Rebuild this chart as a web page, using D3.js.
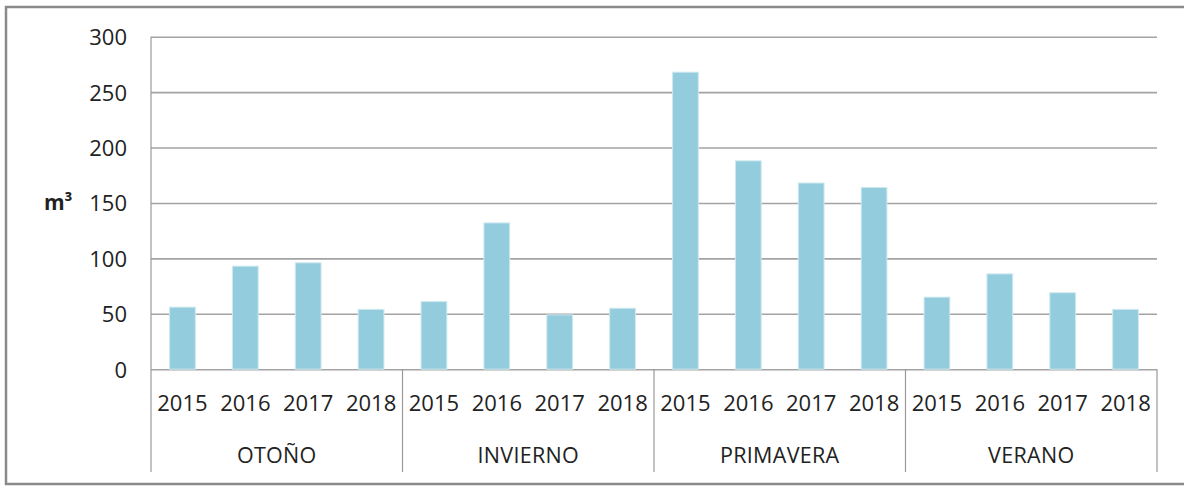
<!DOCTYPE html>
<html>
<head>
<meta charset="utf-8">
<script src="https://cdn.jsdelivr.net/npm/d3@7"></script>
<style>
	body { margin: 0; background: #fff; }
	text { font-family: 'Open Sans', sans-serif; fill: #222; }
</style>
</head>
<body>
<svg id="chart" width="1184" height="486"></svg>
<script>
const seasons = ['OTOÑO', 'INVIERNO', 'PRIMAVERA', 'VERANO'];
const years = ['2015', '2016', '2017', '2018'];

// m³ per season, one value per year
const otono = [56, 93, 96, 54];
const invierno = [61, 132, 49, 55];
const primavera = [268, 188, 168, 164];
const verano = [65, 86, 69, 54];

const yTicks = [0, 50, 100, 150, 200, 250, 300];
const unitLabel = 'm³';

const seriesBySeason = [otono, invierno, primavera, verano];

const data = [];
seasons.forEach((s, i) => {
	years.forEach((yr, j) => {
		data.push({ season: s, year: yr, value: seriesBySeason[i][j] });
	});
});

const plotLeft = 151;
const plotRight = 1157;
const plotTop = 36.7;
const plotBottom = 369.2;
const catBottom = 472;

const $svg = d3.select('#chart');

// outer frame
$svg.append('rect')
	.attr('x', 6)
	.attr('y', 7)
	.attr('width', 1200)
	.attr('height', 477)
	.attr('fill', 'none')
	.attr('stroke', '#8a8a8a')
	.attr('stroke-width', 2.5);

const x0 = d3.scaleBand()
	.domain(seasons)
	.range([plotLeft, plotRight]);

const x1 = d3.scaleBand()
	.domain(years)
	.range([0, x0.bandwidth()])
	.paddingInner(0.59)
	.paddingOuter(0.295);

const y = d3.scaleLinear()
	.domain([0, 300])
	.range([plotBottom, plotTop]);

// value axis + gridlines
const yAxis = d3.axisLeft(y)
	.tickValues(yTicks)
	.tickSize(-(plotRight - plotLeft))
	.tickPadding(24);

const $yAxis = $svg.append('g')
	.attr('transform', `translate(${plotLeft},0)`)
	.call(yAxis);

$yAxis.select('.domain').remove();
$yAxis.selectAll('.tick line')
	.attr('stroke', '#a3a3a3')
	.attr('stroke-width', 1.6);
$yAxis.selectAll('.tick text')
	.attr('font-size', 22)
	.attr('font-family', "'Open Sans', sans-serif")
	.attr('fill', '#222')
	.attr('dy', '0.36em');

// unit label
$svg.append('text')
	.attr('x', 44)
	.attr('y', 210)
	.attr('font-size', 21)
	.attr('font-weight', 'bold')
	.text(unitLabel);

// bars
$svg.append('g')
	.selectAll('rect')
	.data(data)
	.join('rect')
	.attr('x', d => x0(d.season) + x1(d.year))
	.attr('y', d => y(d.value))
	.attr('width', x1.bandwidth())
	.attr('height', d => y(0) - y(d.value))
	.attr('fill', '#93cddd')
	.attr('stroke', '#cfe9f0')
	.attr('stroke-width', 1);

// category axis lines
const $cat = $svg.append('g');

$cat.append('line')
	.attr('x1', plotLeft)
	.attr('x2', plotLeft)
	.attr('y1', plotTop)
	.attr('y2', catBottom)
	.attr('stroke', '#999')
	.attr('stroke-width', 1.2);

$cat.selectAll('line.sep')
	.data(seasons)
	.join('line')
	.attr('class', 'sep')
	.attr('x1', d => x0(d) + x0.bandwidth())
	.attr('x2', d => x0(d) + x0.bandwidth())
	.attr('y1', plotBottom)
	.attr('y2', catBottom)
	.attr('stroke', '#999')
	.attr('stroke-width', 1.2);

// year labels
$cat.selectAll('text.year')
	.data(data)
	.join('text')
	.attr('class', 'year')
	.attr('x', d => x0(d.season) + x1(d.year) + x1.bandwidth() / 2)
	.attr('y', 403.5)
	.attr('dy', '0.36em')
	.attr('text-anchor', 'middle')
	.attr('font-size', 22)
	.text(d => d.year);

// season labels
$cat.selectAll('text.season')
	.data(seasons)
	.join('text')
	.attr('class', 'season')
	.attr('x', d => x0(d) + x0.bandwidth() / 2)
	.attr('y', 455)
	.attr('dy', '0.36em')
	.attr('text-anchor', 'middle')
	.attr('font-size', 21.5)
	.attr('letter-spacing', 0.3)
	.text(d => d);
</script>
</body>
</html>
